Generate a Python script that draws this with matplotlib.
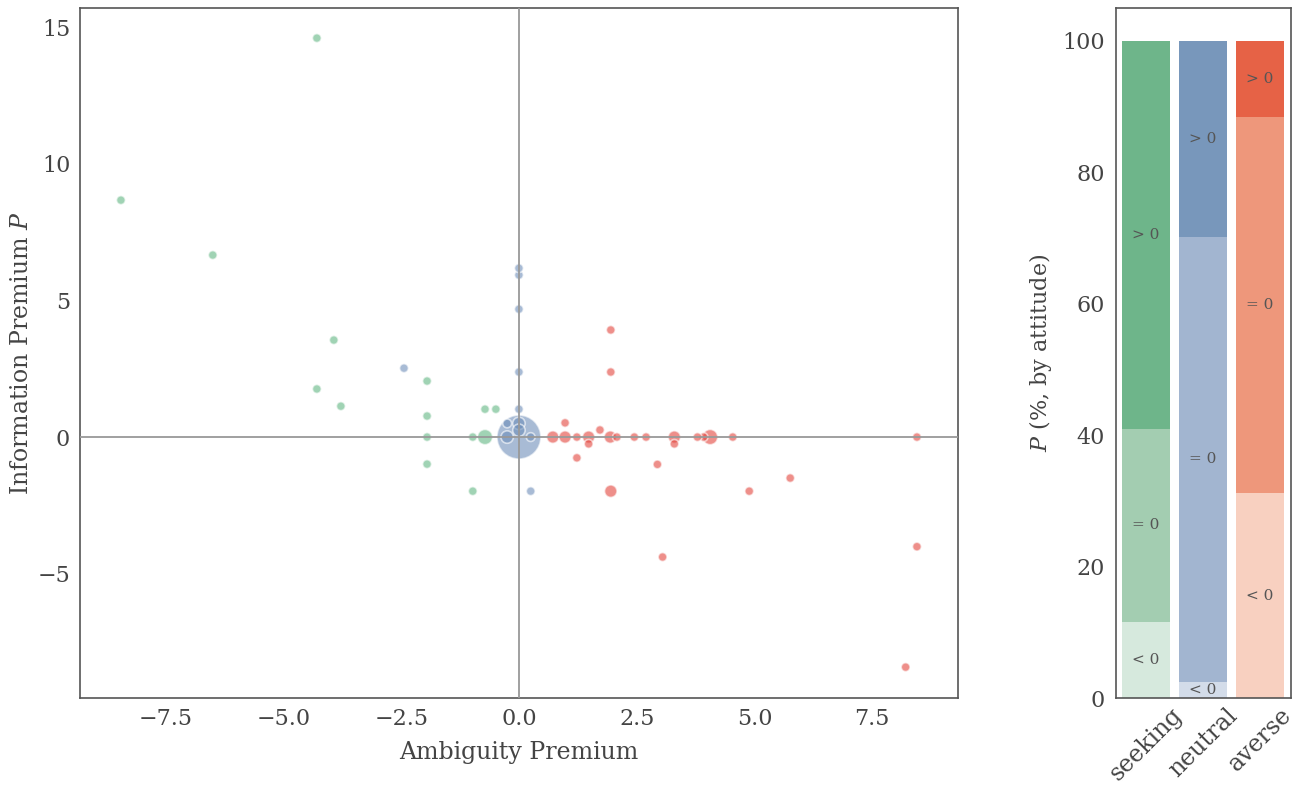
import numpy as np
import matplotlib
matplotlib.use("Agg")
import matplotlib.pyplot as plt

plt.rcParams['font.family'] = ['DejaVu Serif']
plt.rcParams['mathtext.fontset'] = 'dejavuserif'
plt.rcParams['text.color'] = '#444444'
plt.rcParams['axes.labelcolor'] = '#444444'
plt.rcParams['xtick.color'] = '#444444'
plt.rcParams['ytick.color'] = '#444444'

# scatter data: (ambiguity premium, information premium, number of participants)
seeking_x = [-4.29, -8.45, -6.50, -3.93, -4.29, -3.78, -1.95, -1.95, -1.95, -1.95, -0.98, -0.98, -0.72, -0.72, -0.49]
seeking_y = [14.60, 8.67, 6.66, 3.55, 1.76, 1.13, 2.05, 0.77, 0.0, -0.99, -1.98, 0.0, 0.0, 1.02, 1.02]
seeking_n = [1, 1, 1, 1, 1, 1, 1, 1, 1, 1, 1, 1, 3, 1, 1]

neutral_x = [-2.44, 0.0, 0.0, 0.0, 0.0, 0.0, 0.25, 0.0, -0.25, 0.0, 0.0, -0.25, 0.25]
neutral_y = [2.52, 6.18, 5.93, 4.68, 2.38, 1.02, -1.98, 0.0, 0.5, 0.5, 0.25, 0.0, 0.0]
neutral_n = [1, 1, 1, 1, 1, 1, 1, 25, 1, 2, 2, 2, 1]

averse_x = [1.95, 1.95, 0.98, 1.72, 1.48, 1.23, 1.95, 2.94, 3.05, 3.30, 4.89, 5.76, 8.45, 8.21,
            0.72, 0.98, 1.23, 1.48, 1.94, 2.08, 2.45, 2.70, 3.30, 3.79, 3.92, 4.06, 4.54, 8.45]
averse_y = [3.92, 2.38, 0.52, 0.26, -0.25, -0.76, -1.98, -1.00, -4.39, -0.25, -1.98, -1.50, -4.01, -8.42,
            0.0, 0.0, 0.0, 0.0, 0.0, 0.0, 0.0, 0.0, 0.0, 0.0, 0.0, 0.0, 0.0, 0.0]
averse_n = [1, 1, 1, 1, 1, 1, 2, 1, 1, 1, 1, 1, 1, 1,
            2, 2, 1, 2, 2, 1, 1, 1, 2, 1, 1, 3, 1, 1]

# stacked shares (%), by attitude
attitudes = ["seeking", "neutral", "averse"]
share_neg = [11.6, 2.5, 31.2]
share_zero = [29.4, 67.7, 57.2]
share_pos = [59.0, 29.8, 11.6]

scatter_colors = {"seeking": "#61b782", "neutral": "#6e8fb9", "averse": "#e3453d"}
bar_colors = {
    "seeking": ["#d6e9dd", "#a3cdb1", "#6eb58a"],
    "neutral": ["#d3dce9", "#a2b5d0", "#7897bb"],
    "averse": ["#f8d0c0", "#ee977b", "#e66246"],
}

fig = plt.figure(figsize=(13.04, 7.89), dpi=100)
ax = fig.add_axes([0.0613, 0.1153, 0.6733, 0.8745])
ax2 = fig.add_axes([0.8558, 0.1153, 0.1342, 0.8745])

ax.axhline(0, color='#999999', lw=1.3, zorder=4)
ax.axvline(0, color='#999999', lw=1.3, zorder=4)

# bigger groups first so the small dots sit on top
for name, xs, ys, ns in [("seeking", seeking_x, seeking_y, seeking_n),
                         ("neutral", neutral_x, neutral_y, neutral_n),
                         ("averse", averse_x, averse_y, averse_n)]:
    order = np.argsort(ns)[::-1]
    xs = np.array(xs)[order]
    ys = np.array(ys)[order]
    ns = np.array(ns)[order]
    ax.scatter(xs, ys, s=ns * 40, color=scatter_colors[name], alpha=0.6,
               edgecolor='white', linewidth=1.2, zorder=3)

ax.set_xlim(-9.32, 9.32)
ax.set_ylim(-9.55, 15.7)
ax.set_xticks([-7.5, -5.0, -2.5, 0.0, 2.5, 5.0, 7.5])
ax.set_xticklabels(['\u22127.5', '\u22125.0', '\u22122.5', '0.0', '2.5', '5.0', '7.5'])
ax.set_yticks([-5, 0, 5, 10, 15])
ax.set_yticklabels(['\u22125', '0', '5', '10', '15'])
ax.tick_params(labelsize=16, length=0, pad=7)
ax.set_xlabel("Ambiguity Premium", fontsize=17, labelpad=8)
ax.set_ylabel("Information Premium $P$", fontsize=17, labelpad=3)

xpos = np.arange(len(attitudes))
width = 0.84
for i, name in enumerate(attitudes):
    parts = [share_neg[i], share_zero[i], share_pos[i]]
    labels = ["< 0", "= 0", "> 0"]
    bottom = 0
    for part, col, lab in zip(parts, bar_colors[name], labels):
        ax2.bar(xpos[i], part, width=width, bottom=bottom, color=col, edgecolor='none')
        ax2.text(xpos[i], bottom + part / 2, lab, ha='center', va='center', fontsize=11, color='#555555')
        bottom += part

ax2.set_xlim(-0.53, 2.54)
ax2.set_ylim(0, 105)
ax2.set_yticks([0, 20, 40, 60, 80, 100])
ax2.set_xticks(xpos)
ax2.set_xticklabels(attitudes, rotation=45, ha='center')
ax2.tick_params(axis='y', labelsize=16, length=0, pad=8)
ax2.tick_params(axis='x', labelsize=17, length=0, pad=4)
ax2.set_ylabel("$P$ (%, by attitude)", fontsize=16, labelpad=6)

for a in (ax, ax2):
    for sp in a.spines.values():
        sp.set_color('#555555')
        sp.set_linewidth(1.2)

fig.savefig("out.png", dpi=100)
